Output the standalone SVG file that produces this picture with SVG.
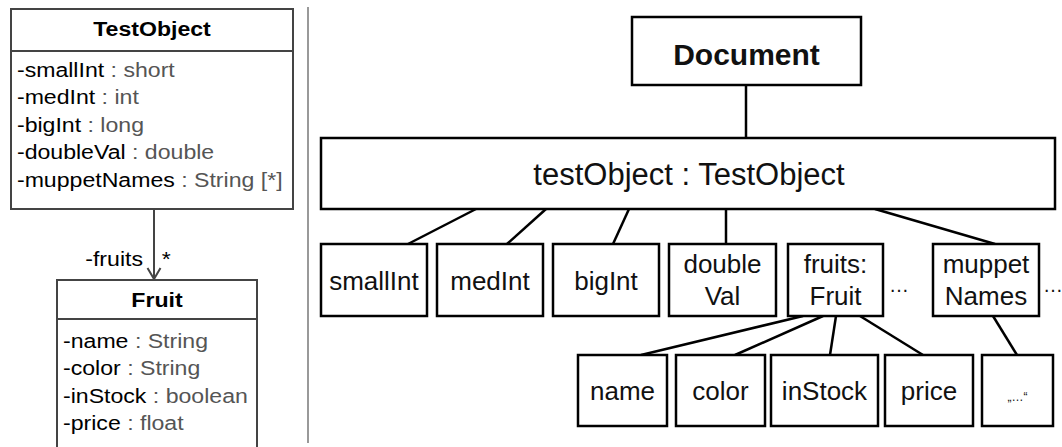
<svg xmlns="http://www.w3.org/2000/svg" width="1062" height="447" viewBox="0 0 1062 447">
<style>
.uml{fill:#fff;stroke:#444;stroke-width:2}
.ul{stroke:#444;stroke-width:2;fill:none}
.lt{font-family:"Liberation Sans",Arial,sans-serif;font-size:21px;fill:#000}
.ty{fill:#555}
.hd{font-weight:bold;text-anchor:middle}
.box{fill:#fff;stroke:#000;stroke-width:2.5}
.edge{stroke:#000;stroke-width:2.5;fill:none}
.t{font-family:"Liberation Sans",Arial,sans-serif;font-size:26px;fill:#111;text-anchor:middle}
</style>
<line x1="308" y1="7" x2="308" y2="443" stroke="#999" stroke-width="2"/>
<g id="uml-links">
<line class="ul" x1="154" y1="210" x2="154" y2="279"/>
<polyline class="ul" points="147.5,268 154,279 160.5,268"/>
<g transform="scale(1.1,1)">
<text class="lt" x="130" y="266" text-anchor="end">-fruits</text>
<text class="lt" x="147" y="266">*</text>
</g>
</g>
<g id="TestObject">
<rect class="uml" x="11" y="9" width="282" height="200"/>
<line class="ul" x1="11" y1="51" x2="293" y2="51"/>
<g transform="scale(1.1,1)">
<text class="lt hd" x="138.2" y="36.5">TestObject</text>
<text class="lt" x="15.4" y="77">-smallInt<tspan class="ty"> : short</tspan></text>
<text class="lt" x="15.4" y="104.5">-medInt<tspan class="ty"> : int</tspan></text>
<text class="lt" x="15.4" y="132">-bigInt<tspan class="ty"> : long</tspan></text>
<text class="lt" x="15.4" y="159.5">-doubleVal<tspan class="ty"> : double</tspan></text>
<text class="lt" x="15.4" y="187">-muppetNames<tspan class="ty"> : String [*]</tspan></text>
</g>
</g>
<g id="Fruit">
<path class="uml" d="M57,452 V280 H257 V452"/>
<line class="ul" x1="57" y1="319" x2="257" y2="319"/>
<g transform="scale(1.1,1)">
<text class="lt hd" x="142.7" y="307">Fruit</text>
<text class="lt" x="57.3" y="348">-name<tspan class="ty"> : String</tspan></text>
<text class="lt" x="57.3" y="375.5">-color<tspan class="ty"> : String</tspan></text>
<text class="lt" x="57.3" y="403">-inStock<tspan class="ty"> : boolean</tspan></text>
<text class="lt" x="57.3" y="430.5">-price<tspan class="ty"> : float</tspan></text>
</g>
</g>
<g id="connectors">
<line class="edge" x1="746" y1="85" x2="746" y2="138"/>
<line class="edge" x1="476" y1="209" x2="408" y2="244"/>
<line class="edge" x1="546" y1="209" x2="507" y2="244"/>
<line class="edge" x1="629" y1="209" x2="613" y2="244"/>
<line class="edge" x1="726" y1="209" x2="726" y2="244"/>
<line class="edge" x1="875" y1="209" x2="995" y2="244"/>
<line class="edge" x1="803" y1="316" x2="641" y2="355"/>
<line class="edge" x1="823" y1="316" x2="735" y2="355"/>
<line class="edge" x1="836" y1="316" x2="830" y2="355"/>
<line class="edge" x1="860" y1="316" x2="923" y2="355"/>
<line class="edge" x1="993" y1="316" x2="1017" y2="355"/>
</g>
<g id="Document">
<rect class="box" x="632" y="17" width="229" height="68"/>
<text class="t" x="746.5" y="65" style="font-weight:bold;font-size:30px">Document</text>
</g>
<g id="testObject">
<rect class="box" x="321" y="138" width="734" height="71"/>
<text class="t" x="689" y="185" style="font-size:31px">testObject : TestObject</text>
</g>
<g id="smallInt">
<rect class="box" x="321" y="244" width="106" height="72"/>
<text class="t" x="374" y="290">smallInt</text>
</g>
<g id="medInt">
<rect class="box" x="437" y="244" width="106" height="72"/>
<text class="t" x="490" y="290">medInt</text>
</g>
<g id="bigInt">
<rect class="box" x="553" y="244" width="106" height="72"/>
<text class="t" x="606" y="290">bigInt</text>
</g>
<g id="doubleVal">
<rect class="box" x="669" y="244" width="107" height="72"/>
<text class="t" x="722.5" y="273">double</text>
<text class="t" x="722.5" y="305">Val</text>
</g>
<g id="fruits">
<rect class="box" x="788" y="244" width="95" height="72"/>
<text class="t" x="835.5" y="273">fruits:</text>
<text class="t" x="835.5" y="305">Fruit</text>
</g>
<text class="t" x="899" y="292" style="font-size:20px">…</text>
<g id="muppetNames">
<rect class="box" x="933" y="244" width="106" height="72"/>
<text class="t" x="986" y="273">muppet</text>
<text class="t" x="986" y="305">Names</text>
</g>
<text class="t" x="1043" y="292" style="font-size:20px;text-anchor:start">…</text>
<g id="name">
<rect class="box" x="578" y="355" width="89" height="71"/>
<text class="t" x="622.5" y="400">name</text>
</g>
<g id="color">
<rect class="box" x="676" y="355" width="89" height="71"/>
<text class="t" x="720.5" y="400">color</text>
</g>
<g id="inStock">
<rect class="box" x="771" y="355" width="107" height="71"/>
<text class="t" x="824.5" y="400">inStock</text>
</g>
<g id="price">
<rect class="box" x="885" y="355" width="88" height="71"/>
<text class="t" x="929" y="400">price</text>
</g>
<g id="value">
<rect class="box" x="982" y="355" width="71" height="71"/>
<text class="t" x="1017.5" y="401" style="font-size:12px">„…“</text>
</g>
</svg>
